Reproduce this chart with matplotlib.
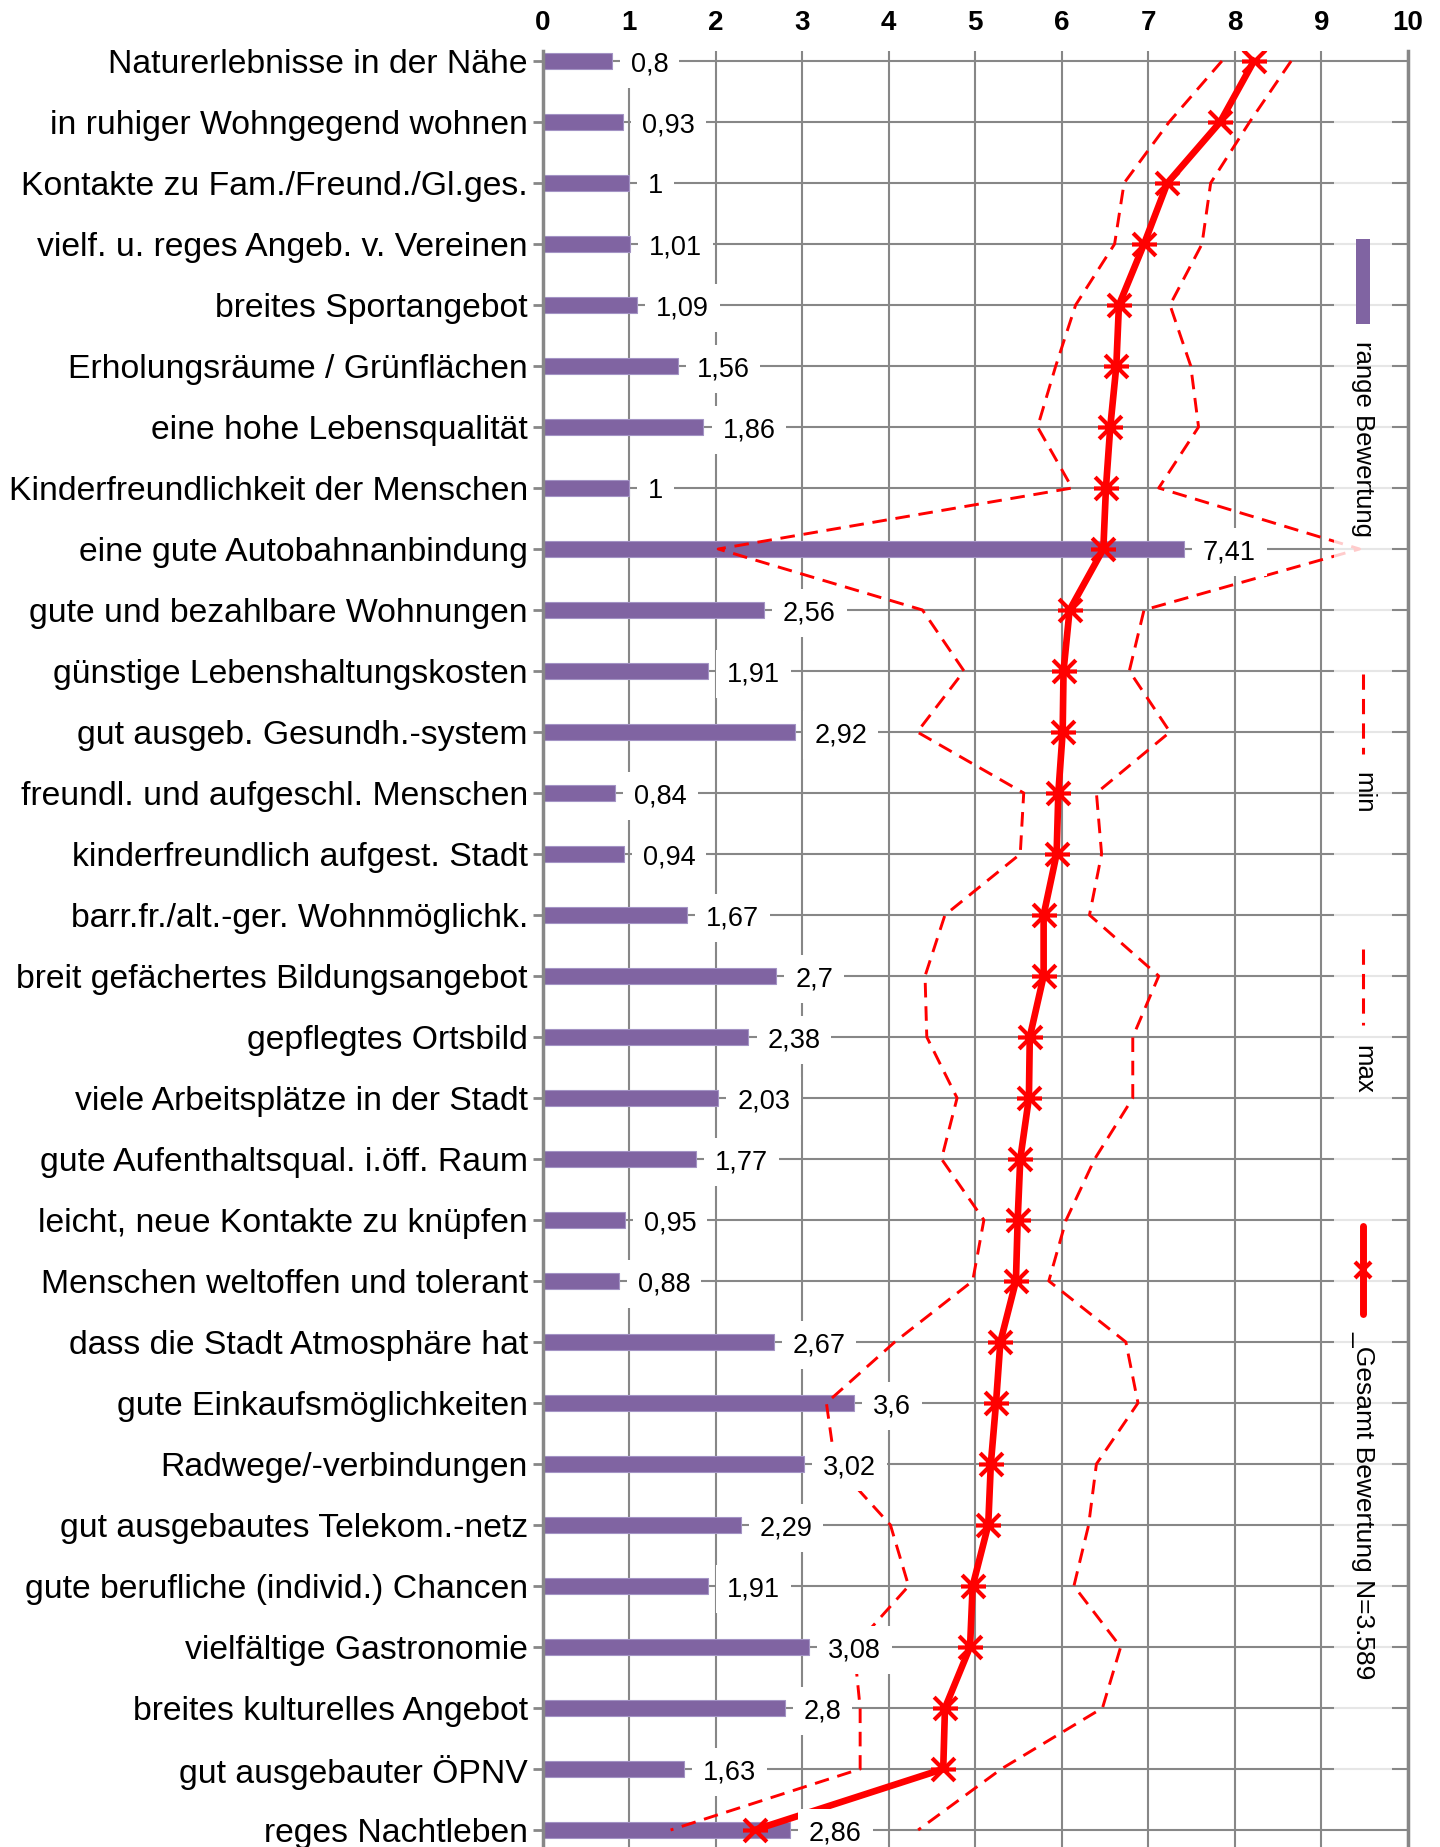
import matplotlib
matplotlib.use('Agg')
import matplotlib.pyplot as plt
import numpy as np
from matplotlib.path import Path
from matplotlib.lines import Line2D
from matplotlib.patches import Rectangle

plt.rcParams['font.family'] = ['Liberation Sans', 'DejaVu Sans']

categories = [
    "Naturerlebnisse in der Nähe",
    "in ruhiger Wohngegend wohnen",
    "Kontakte zu Fam./Freund./Gl.ges.",
    "vielf. u. reges Angeb. v. Vereinen",
    "breites Sportangebot",
    "Erholungsräume / Grünflächen",
    "eine hohe Lebensqualität",
    "Kinderfreundlichkeit der Menschen",
    "eine gute Autobahnanbindung",
    "gute und bezahlbare Wohnungen",
    "günstige Lebenshaltungskosten",
    "gut ausgeb. Gesundh.-system",
    "freundl. und aufgeschl. Menschen",
    "kinderfreundlich aufgest. Stadt",
    "barr.fr./alt.-ger. Wohnmöglichk.",
    "breit gefächertes Bildungsangebot",
    "gepflegtes Ortsbild",
    "viele Arbeitsplätze in der Stadt",
    "gute Aufenthaltsqual. i.öff. Raum",
    "leicht, neue Kontakte zu knüpfen",
    "Menschen weltoffen und tolerant",
    "dass die Stadt Atmosphäre hat",
    "gute Einkaufsmöglichkeiten",
    "Radwege/-verbindungen",
    "gut ausgebautes Telekom.-netz",
    "gute berufliche (individ.) Chancen",
    "vielfältige Gastronomie",
    "breites kulturelles Angebot",
    "gut ausgebauter ÖPNV",
    "reges Nachtleben",
]

range_vals = [0.8, 0.93, 1, 1.01, 1.09, 1.56, 1.86, 1, 7.41, 2.56,
              1.91, 2.92, 0.84, 0.94, 1.67, 2.7, 2.38, 2.03, 1.77, 0.95,
              0.88, 2.67, 3.6, 3.02, 2.29, 1.91, 3.08, 2.8, 1.63, 2.86]

gesamt = [8.22, 7.83, 7.22, 6.95, 6.66, 6.63, 6.56, 6.51, 6.48, 6.09,
          6.02, 6.01, 5.96, 5.94, 5.79, 5.79, 5.63, 5.62, 5.52, 5.49,
          5.47, 5.29, 5.24, 5.18, 5.15, 4.97, 4.94, 4.65, 4.63, 2.45]

min_vals = [7.85, 7.24, 6.72, 6.61, 6.16, 5.93, 5.72, 6.12, 2.03, 4.39,
            4.87, 4.33, 5.56, 5.52, 4.65, 4.42, 4.44, 4.79, 4.61, 5.10,
            4.97, 4.07, 3.28, 3.38, 4.02, 4.23, 3.60, 3.67, 3.67, 1.48]

max_vals = [8.65, 8.17, 7.72, 7.62, 7.25, 7.49, 7.58, 7.12, 9.44, 6.95,
            6.78, 7.25, 6.40, 6.46, 6.32, 7.12, 6.82, 6.82, 6.38, 6.05,
            5.85, 6.74, 6.88, 6.40, 6.31, 6.14, 6.68, 6.47, 5.30, 4.34]

x_ticks = list(range(11))

legend_labels = ["range Bewertung", "min", "max", "_Gesamt Bewertung N=3.589"]

BAR_COLOR = '#8064A2'
GRID = '#878787'

W, H = 1440, 1847
fig = plt.figure(figsize=(W / 100, H / 100), dpi=100)

top_px, row0, step = 51, 61, 61
ax_left, ax_right = 542.5, 1408
y_top = -(row0 - top_px) / step
y_bot = 29.6
ax_h = (y_bot - y_top) * step
ax = fig.add_axes([ax_left / W, 1 - (top_px + ax_h) / H,
                   (ax_right - ax_left) / W, ax_h / H])

y = np.arange(len(categories))

ax.set_axisbelow(True)
ax.grid(True, color=GRID, lw=1.5)
ax.barh(y, range_vals, height=0.25, color=BAR_COLOR, edgecolor='#A393C4',
        linewidth=0.8, zorder=2)

ax.plot(min_vals, y, color='red', lw=2.1, dashes=(5, 3), zorder=3)
ax.plot(max_vals, y, color='red', lw=2.1, dashes=(5, 3), zorder=3)

star = Path([(-1, -1), (1, 1), (-1, 1), (1, -1), (-1.1, 0), (1.1, 0)],
            [Path.MOVETO, Path.LINETO, Path.MOVETO, Path.LINETO,
             Path.MOVETO, Path.LINETO])
ax.plot(gesamt, y, color='red', lw=4.8, marker=star, ms=18, mew=3,
        mec='red', mfc='none', zorder=4)

for v, yi in zip(range_vals, y):
    ax.annotate(f"{v:g}".replace('.', ','), xy=(v, yi), xytext=(19, 0),
                textcoords='offset pixels', va='center_baseline', ha='left',
                fontsize=19.5,
                bbox=dict(boxstyle='square,pad=0.4', fc='white', ec='none'),
                zorder=5)

ax.set_xlim(0, 10)
ax.set_ylim(y_bot, y_top)
ax.set_yticks(y, labels=categories, fontsize=24.3)
ax.set_xticks(x_ticks, labels=[str(t) for t in x_ticks], fontsize=20,
              fontweight='bold')
ax.xaxis.tick_top()
ax.tick_params(axis='x', length=0, pad=11)
ax.tick_params(axis='y', length=7.5, width=2, color=GRID, pad=3)
for s in ['top', 'bottom']:
    ax.spines[s].set_visible(False)
for s in ['left', 'right']:
    ax.spines[s].set_color(GRID)
    ax.spines[s].set_linewidth(2.5)


def fx(px):
    return px / W


def fy(py):
    return 1 - py / H


# legend (rotated entries)
fig.add_artist(Rectangle((fx(1334), fy(1800)), fx(1392) - fx(1334),
                         fy(91) - fy(1800), transform=fig.transFigure,
                         facecolor='white', edgecolor='none', alpha=0.8,
                         zorder=10))
lx = 1363
fig.add_artist(Rectangle((fx(lx - 7), fy(324)), fx(14), fy(239) - fy(324),
                         transform=fig.transFigure, facecolor=BAR_COLOR,
                         edgecolor='none', zorder=11))
fig.text(fx(lx), fy(439), legend_labels[0], rotation=-90, ha='center',
         va='center', fontsize=18.5, zorder=11)
for (y0, y1), (t0, t1), lab in [((674, 754), (772, 813), legend_labels[1]),
                                ((949, 1025), (1043, 1096), legend_labels[2])]:
    fig.add_artist(Line2D([fx(lx), fx(lx)], [fy(y0), fy(y1)],
                          transform=fig.transFigure, color='red', lw=2.2,
                          dashes=(5, 3), zorder=11))
    fig.text(fx(lx), fy((t0 + t1) / 2), lab, rotation=-90, ha='center',
             va='center', fontsize=18.5, zorder=11)
fig.add_artist(Line2D([fx(lx), fx(lx)], [fy(1226), fy(1314)],
                      transform=fig.transFigure, color='red', lw=5,
                      solid_capstyle='round', zorder=11))
fig.add_artist(Line2D([fx(lx)], [fy(1270)], transform=fig.transFigure,
                      marker='x', ms=12, mew=3, color='red', lw=0, zorder=12))
fig.text(fx(lx), fy(1505), legend_labels[3], rotation=-90, ha='center',
         va='center', fontsize=19, zorder=11)

fig.savefig('out.png', dpi=100)
